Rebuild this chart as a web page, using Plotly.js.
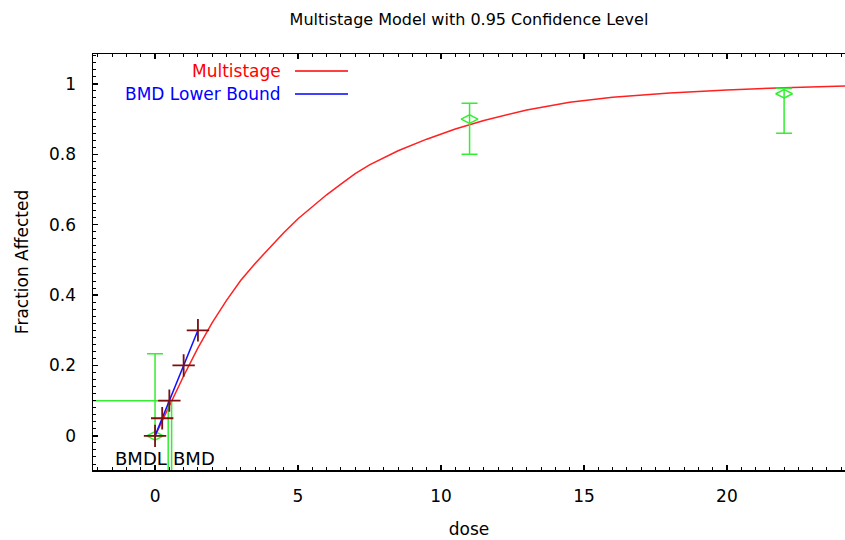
<!DOCTYPE html>
<html>
<head>
<meta charset="utf-8">
<script src="https://cdn.plot.ly/plotly-3.0.1.min.js"></script>
<style>html,body{margin:0;padding:0;background:#fff;}#chart{width:845px;height:540px;}</style>
</head>
<body>
<div id="chart"></div>
<script>
// Fitted multistage curve
const curveDose = [0, 0.5, 1.0, 1.5, 2.0, 2.5, 3.0, 3.5, 4.0, 4.5, 5.0, 5.5, 6.0, 6.5, 7.0, 7.5, 8.5, 9.5, 10.5, 11.5, 13.0, 14.5, 16.0, 18.0, 20.0, 22.0, 24.2];
const curveFrac = [0, 0.085, 0.17, 0.25, 0.322, 0.385, 0.442, 0.49, 0.535, 0.577, 0.617, 0.652, 0.685, 0.715, 0.745, 0.77, 0.81, 0.843, 0.872, 0.896, 0.926, 0.948, 0.962, 0.974, 0.983, 0.989, 0.994];
// BMD lower bound line and its markers
const lowerDose = [0, 0.25, 0.5, 1.0, 1.5];
const lowerFrac = [0, 0.05, 0.1, 0.2, 0.3];
// Observed data with confidence intervals
const obsDose = [0, 11, 22];
const obsFrac = [0, 0.9, 0.972];
const obsLow = [0, 0.8, 0.86];
const obsHigh = [0.233, 0.945, 0.988];
// Benchmark values
const bmr = 0.1;
const bmd = 0.58;
const bmdl = 0.46;
const xRange = [-2.17, 24.13];
const yRange = [-0.097, 1.085];
const xTicks = [0, 5, 10, 15, 20];
const yTicks = [0, 0.2, 0.4, 0.6, 0.8, 1];

const FONT = 'DejaVu Sans, Liberation Sans, Arial, sans-serif';
const GREEN = '#33ee33';

const traces = [
  {x: curveDose, y: curveFrac, mode: 'lines', line: {color: '#ff2020', width: 1.5}, hoverinfo: 'skip'},
  {x: [xRange[0], bmd], y: [bmr, bmr], mode: 'lines', line: {color: GREEN, width: 1.5}, hoverinfo: 'skip'},
  {x: [bmdl, bmdl], y: [bmr, yRange[0]], mode: 'lines', line: {color: GREEN, width: 1.5}, hoverinfo: 'skip'},
  {x: [bmd, bmd], y: [bmr, yRange[0]], mode: 'lines', line: {color: GREEN, width: 1.5}, hoverinfo: 'skip'},
  {x: obsDose, y: obsFrac, mode: 'markers',
   marker: {symbol: 'diamond-wide-open', size: 12, color: GREEN, line: {color: GREEN, width: 1.5}},
   error_y: {type: 'data', symmetric: false,
     array: obsHigh.map((h, i) => h - obsFrac[i]),
     arrayminus: obsLow.map((l, i) => obsFrac[i] - l),
     color: GREEN, thickness: 1.5, width: 8}},
  {x: lowerDose, y: lowerFrac, mode: 'lines', line: {color: '#1010ff', width: 1.5}, hoverinfo: 'skip'},
  {x: lowerDose, y: lowerFrac, mode: 'markers',
   marker: {symbol: 'cross-thin-open', size: 16, color: '#7a1010', line: {color: '#7a1010', width: 1.8}}}
];

const legY1 = 1 - (71 - 54) / 416;
const legY2 = 1 - (94 - 54) / 416;
const layout = {
  width: 845, height: 540,
  margin: {l: 93, r: 0, t: 54, b: 70},
  paper_bgcolor: '#fff', plot_bgcolor: '#fff',
  showlegend: false,
  font: {family: FONT, size: 17, color: '#000'},
  title: {text: 'Multistage Model with 0.95 Confidence Level', x: 0.5, xref: 'paper', y: 1 - 19 / 540, yanchor: 'middle', font: {family: FONT, size: 16, color: '#000'}},
  xaxis: {
    range: xRange, tickvals: xTicks, ticktext: xTicks.map(String),
    showgrid: false, zeroline: false, showline: true, linecolor: '#000', linewidth: 1.5,
    ticks: 'inside', ticklen: 5, tickwidth: 1.5, tickcolor: '#000', mirror: 'ticks',
    minor: {dtick: 0.5, ticks: 'inside', ticklen: 3, tickwidth: 1, tickcolor: '#000'},
    ticklabelstandoff: 10,
    tickfont: {family: FONT, size: 17},
    title: {text: 'dose', font: {family: FONT, size: 17}, standoff: 18}
  },
  yaxis: {
    range: yRange, tickvals: yTicks, ticktext: yTicks.map(String),
    showgrid: false, zeroline: false, showline: true, linecolor: '#000', linewidth: 1.5,
    ticks: 'inside', ticklen: 5, tickwidth: 1.5, tickcolor: '#000',
    minor: {dtick: 0.02, ticks: 'inside', ticklen: 3, tickwidth: 1, tickcolor: '#000'},
    ticklabelstandoff: 12,
    tickfont: {family: FONT, size: 17},
    title: {text: 'Fraction Affected', font: {family: FONT, size: 17}, standoff: 16}
  },
  annotations: [
    {xref: 'paper', yref: 'paper', x: (283 - 93) / 752, y: legY1, xanchor: 'right', yanchor: 'middle', text: 'Multistage', showarrow: false, font: {family: FONT, size: 17, color: '#ff0000'}},
    {xref: 'paper', yref: 'paper', x: (283 - 93) / 752, y: legY2, xanchor: 'right', yanchor: 'middle', text: 'BMD Lower Bound', showarrow: false, font: {family: FONT, size: 17, color: '#0000ff'}},
    {xref: 'x', yref: 'y', x: bmdl, y: -0.065, xanchor: 'right', yanchor: 'middle', text: 'BMDL', showarrow: false, xshift: 1, font: {family: FONT, size: 18, color: '#000'}},
    {xref: 'x', yref: 'y', x: bmd, y: -0.065, xanchor: 'left', yanchor: 'middle', text: 'BMD', showarrow: false, xshift: -1, font: {family: FONT, size: 18, color: '#000'}}
  ],
  shapes: [
    {type: 'line', xref: 'paper', yref: 'paper', x0: (295 - 93) / 752, x1: (348 - 93) / 752, y0: legY1, y1: legY1, line: {color: '#ff0000', width: 1.5}},
    {type: 'line', xref: 'paper', yref: 'paper', x0: (295 - 93) / 752, x1: (348 - 93) / 752, y0: legY2, y1: legY2, line: {color: '#0000ff', width: 1.5}}
  ]
};

Plotly.newPlot('chart', traces, layout, {displayModeBar: false, staticPlot: true});
</script>
</body>
</html>
